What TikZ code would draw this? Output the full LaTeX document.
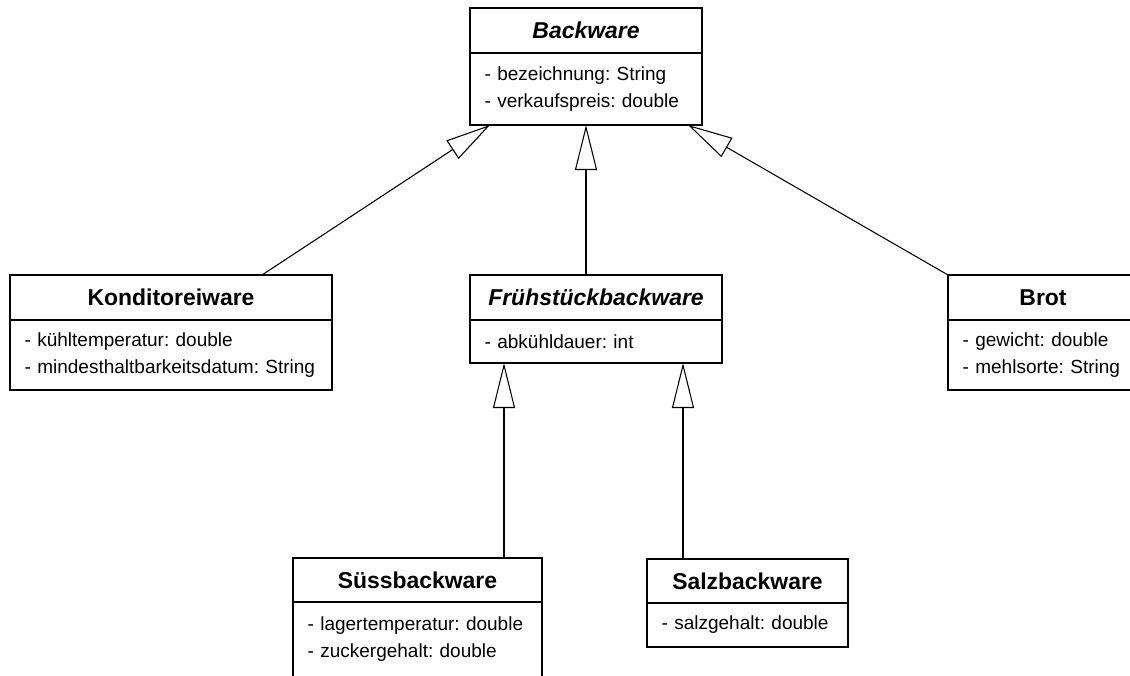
\documentclass[tikz,border=0pt]{standalone}
\usepackage{fontspec}
\setmainfont{Liberation Sans}
\usetikzlibrary{arrows.meta,positioning}
\frenchspacing

\begin{document}
\begin{tikzpicture}[
  x=0.75pt,y=-0.75pt,
  classhead/.style={draw,line width=0.8pt,inner sep=0pt,outer sep=0pt,minimum height=33.75pt,font=\fontsize{17.2}{20}\selectfont\bfseries},
  classbody/.style={draw,line width=0.8pt,inner xsep=11pt,inner ysep=0pt,outer sep=0pt,align=left,font=\fontsize{14.25}{20.25}\selectfont},
  inherit/.style={line width=0.8pt,-{Triangle[open,length=33.75pt,width=16.5pt]}}
]
  \useasboundingbox (0,0) rectangle (1130,675);

  % oberklasse
  \node[classhead,anchor=north west,minimum width=174pt] (bw) at (470,8) {\itshape Backware};
  \node[classbody,below=0pt of bw,text width=152pt,minimum height=54pt] (bwa) {- bezeichnung: String\\- verkaufspreis: double};

  % zweite ebene
  \node[classhead,anchor=north west,minimum width=241.5pt] (kw) at (10,275) {Konditoreiware};
  \node[classbody,below=0pt of kw,text width=219.5pt,minimum height=52.5pt] (kwa) {- kühltemperatur: double\\- mindesthaltbarkeitsdatum: String};

  \node[classhead,anchor=north west,minimum width=189pt] (fb) at (470,275) {\itshape Frühstückbackware};
  \node[classbody,below=0pt of fb,text width=167pt,minimum height=32.25pt] (fba) {- abkühldauer: int};

  \node[classhead,anchor=north west,minimum width=142.5pt] (br) at (948,275) {Brot};
  \node[classbody,below=0pt of br,text width=120.5pt,minimum height=52.5pt] (bra) {- gewicht: double\\- mehlsorte: String};

  % dritte ebene
  \node[classhead,anchor=north west,minimum width=186.75pt,minimum height=33pt] (sb) at (293,558) {Süssbackware};
  \node[classbody,below=0pt of sb,text width=164.75pt,minimum height=56.25pt] (sba) {- lagertemperatur: double\\- zuckergehalt: double};

  \node[classhead,anchor=north west,minimum width=150.75pt,minimum height=33pt] (zb) at (647,559) {Salzbackware};
  \node[classbody,below=0pt of zb,text width=128.75pt,minimum height=33pt] (zba) {- salzgehalt: double};

  % vererbung
  \draw[inherit] ([xshift=-52.5pt]kw.north east) -- ([xshift=15pt]bwa.south west);
  \draw[inherit] ([xshift=87pt]fb.north west) -- (bwa.south);
  \draw[inherit] (br.north west) -- ([xshift=-10.5pt]bwa.south east);
  \draw[inherit] ([xshift=158.25pt]sb.north west) -- ([xshift=25.5pt]fba.south west);
  \draw[inherit] ([xshift=27pt]zb.north west) -- ([xshift=-29.25pt]fba.south east);
\end{tikzpicture}
\end{document}
